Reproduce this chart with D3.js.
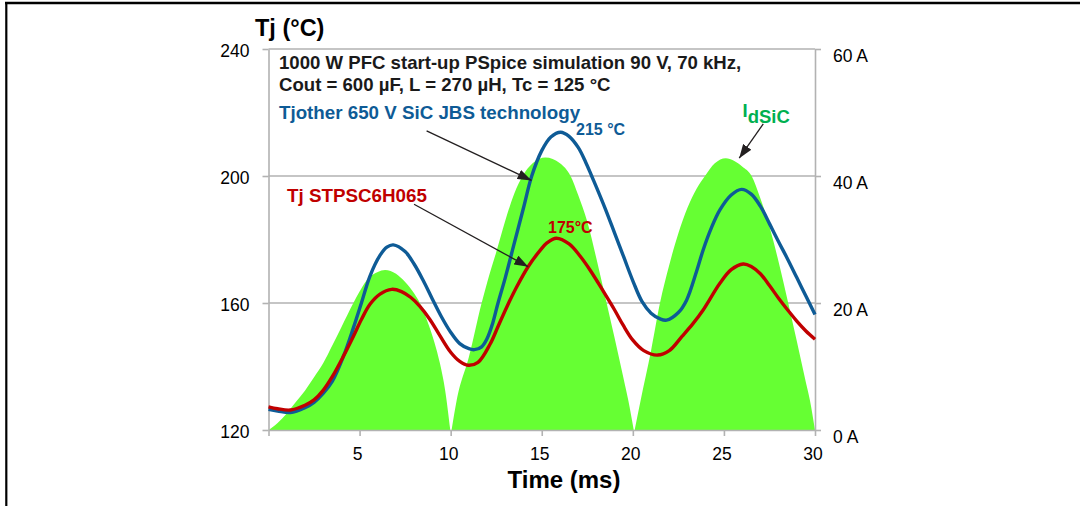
<!DOCTYPE html>
<html><head><meta charset="utf-8">
<script src="https://cdn.jsdelivr.net/npm/d3@7/dist/d3.min.js"></script>
<style>
html,body{margin:0;padding:0;background:#fff;}
svg{display:block;font-family:"Liberation Sans",Arial,sans-serif;}
</style></head>
<body>
<svg id="c" width="1080" height="506"></svg>
<script>
// ---- data (time in ms) ----
const xTicks = [5, 10, 15, 20, 25, 30];
const tempTicks = [120, 160, 200, 240];
const currentTicks = [0, 20, 40, 60];

// Tj of other 650 V SiC JBS technology (°C)
const tjOther = [[0,126.5],[0.5,126],[1.2,125.5],[2,127],[2.5,128.7],[3,131.5],[3.5,135.3],[4.1,143],[4.65,152],[5.1,160],[5.57,168.5],[6.12,175],[6.5,177.6],[6.85,178.3],[7.5,176.2],[8,172.2],[8.5,167],[9,161.2],[9.5,155.6],[10,150.8],[10.5,147.2],[11,145.6],[11.3,145.3],[11.7,146.2],[12,148.8],[12.3,153.5],[12.6,160],[13,168],[13.5,179],[14,190],[14.45,200],[15,208],[15.5,212.3],[16.04,213.8],[16.5,212.5],[17,209],[17.4,204.5],[17.74,200],[18,196.5],[18.5,189.5],[19,182],[19.5,174.5],[20,167],[20.5,160.5],[21,156.8],[21.5,155],[21.85,154.6],[22.5,157],[22.95,160.9],[23.5,170],[23.86,176.7],[24.3,183.5],[24.78,189.3],[25.4,194],[25.97,195.8],[26.5,194.3],[27,190.5],[27.5,185],[28,179.3],[28.5,173.8],[29,168],[29.5,162.2],[30,156.4]];

// Tj STPSC6H065 (°C)
const tjST = [[0,127.3],[0.5,126.7],[1.2,126.3],[2,127.8],[2.5,129.5],[3,132.5],[3.5,136.8],[4.1,143.1],[4.65,149.4],[5.1,154.8],[5.57,159.6],[6.12,162.8],[6.76,164.3],[7.3,163.6],[7.8,161.8],[8.3,159],[8.86,154.8],[9.4,149.8],[10,144.5],[10.5,141.6],[10.95,140.4],[11.5,141.3],[12.16,147],[12.6,152.6],[13.07,158.6],[13.6,164.8],[14.26,171.5],[14.9,176.5],[15.3,179],[15.8,180.4],[16.5,178.6],[17.1,174.8],[17.65,170.4],[18.4,163.5],[19,157.8],[19.47,153],[20,148.3],[20.6,145],[21.36,143.6],[22,145],[22.7,149.5],[23.3,153.5],[23.86,157.8],[24.78,166.2],[25.4,170.5],[26.06,172.3],[26.5,171.5],[27,169.2],[27.5,165.5],[28,161.5],[28.5,157.8],[29,154.3],[29.5,151.2],[30,148.6]];

// IdSiC current (A), three half-wave humps
const idHump1 = [[0,0],[0.5,1.1],[1,2.6],[1.5,4.4],[2,6.2],[2.5,8.3],[3,10.5],[3.5,13.3],[4,16.2],[4.66,20],[5,21.8],[5.39,23.6],[6,24.9],[6.4,25.2],[7,24.6],[7.5,23.3],[8,21.5],[8.31,20],[8.7,17.3],[9,14.8],[9.41,10.5],[9.7,6.2],[9.98,0]];
const idHump2 = [[10.05,0],[10.33,4.7],[11,11.5],[11.7,20],[12,23.2],[12.5,28],[13,33],[13.5,37.3],[13.95,40],[14.5,42],[15.2,42.9],[16,42],[16.58,40],[17,37],[17.5,32.8],[18,27],[18.56,20],[19,14.5],[19.5,8],[19.75,4.7],[20.05,0]];
const idHump3 = [[20.1,0],[20.43,4.7],[21,12.5],[21.49,20],[22,26],[22.5,31],[23,35],[23.5,38],[23.96,40],[24.5,42],[25.1,42.8],[26,41.5],[26.52,40],[27,36.5],[27.5,32],[28,26.5],[28.53,20],[29,14],[29.5,7.5],[29.72,4.7],[30,0]];

// ---- layout ----
const svg = d3.select("#c");
const L = 268.5, R = 815, T = 49, B = 430;
const x = d3.scaleLinear().domain([0, 30]).range([L, R]);
const yT = d3.scaleLinear().domain([120, 240]).range([B, T]);
const yI = d3.scaleLinear().domain([0, 60]).range([B, T]);

const gray = "#b2b2b2";
const blue = "#0e5b96";
const red = "#c00000";
const greenFill = "#66ff33";
const greenText = "#00b050";

// frame
svg.append("line").attr("x1", 5).attr("x2", 1080).attr("y1", 3).attr("y2", 3).attr("stroke", "#000").attr("stroke-width", 2.6);
svg.append("line").attr("x1", 6.3).attr("x2", 6.3).attr("y1", 2).attr("y2", 506).attr("stroke", "#000").attr("stroke-width", 2.2);

// gridlines
svg.append("g").selectAll("line").data(tempTicks.filter(d => d > 120)).join("line")
  .attr("x1", L).attr("x2", R).attr("y1", d => yT(d)).attr("y2", d => yT(d))
  .attr("stroke", gray).attr("stroke-width", 1.6);

// current area
const area = d3.area().x(d => x(d[0])).y0(yI(0)).y1(d => yI(d[1])).curve(d3.curveMonotoneX);
svg.append("g").selectAll("path").data([idHump1, idHump2, idHump3]).join("path")
  .attr("d", area).attr("fill", greenFill);

// axes
function styleAxis(g) {
  g.selectAll(".domain").attr("stroke", gray).attr("stroke-width", 1.6);
  g.selectAll(".tick line").attr("stroke", gray).attr("stroke-width", 1.6);
  g.selectAll("text").attr("fill", "#000").style("font-family", '"Liberation Sans",Arial,sans-serif').style("font-size", "17.5px");
}
const gx = svg.append("g").attr("transform", `translate(0,${B})`)
  .call(d3.axisBottom(x).tickValues([0].concat(xTicks)).tickFormat(d => d === 0 ? "" : d).tickSize(6).tickSizeOuter(0).tickPadding(12));
styleAxis(gx);
gx.selectAll("text").attr("dx", -2.5);

const gl = svg.append("g").attr("transform", `translate(${L},0)`)
  .call(d3.axisLeft(yT).tickValues(tempTicks).tickSize(6).tickSizeOuter(0).tickPadding(13));
styleAxis(gl);
gl.selectAll("text").attr("y", 2);

const gr = svg.append("g").attr("transform", `translate(${R},0)`)
  .call(d3.axisRight(yI).tickValues(currentTicks).tickFormat(d => d + " A").tickSize(6).tickSizeOuter(0).tickPadding(12));
styleAxis(gr);
gr.selectAll("text").attr("y", 7);

// temperature lines
const line = d3.line().x(d => x(d[0])).y(d => yT(d[1])).curve(d3.curveCatmullRom.alpha(0.5));
svg.append("path").datum(tjOther).attr("d", line).attr("fill", "none").attr("stroke", blue).attr("stroke-width", 3.4).attr("stroke-linejoin", "round");
svg.append("path").datum(tjST).attr("d", line).attr("fill", "none").attr("stroke", red).attr("stroke-width", 3.4).attr("stroke-linejoin", "round");

// arrows
const defs = svg.append("defs");
defs.append("marker").attr("id", "ah").attr("viewBox", "0 0 14 10").attr("refX", 14).attr("refY", 5)
  .attr("markerWidth", 14).attr("markerHeight", 10).attr("markerUnits", "userSpaceOnUse").attr("orient", "auto")
  .append("path").attr("d", "M0,0 L14,5 L0,10 Z").attr("fill", "#231f20");
const arrowsT = [
  {from: [8.68, 214.2], to: [14.44, 198.6]},
  {from: [7.99, 191.1], to: [14.26, 171.4]}
];
svg.append("g").selectAll("line").data(arrowsT).join("line")
  .attr("x1", d => x(d.from[0])).attr("y1", d => yT(d.from[1]))
  .attr("x2", d => x(d.to[0])).attr("y2", d => yT(d.to[1]))
  .attr("stroke", "#231f20").attr("stroke-width", 1.3).attr("marker-end", "url(#ah)");
const arrowI = {from: [27.16, 48.2], to: [25.84, 42.8]};
svg.append("line").attr("x1", x(arrowI.from[0])).attr("y1", yI(arrowI.from[1]))
  .attr("x2", x(arrowI.to[0])).attr("y2", yI(arrowI.to[1]))
  .attr("stroke", "#231f20").attr("stroke-width", 1.3).attr("marker-end", "url(#ah)");

// texts
function txt(s, px, py, size, color, weight, anchor) {
  return svg.append("text").attr("x", px).attr("y", py).attr("fill", color)
    .attr("font-size", size).attr("font-weight", weight || "bold").attr("text-anchor", anchor || "start").text(s);
}
txt("Tj (°C)", 255, 36, 23.5, "#000");
txt("Time (ms)", 564, 488, 24, "#000", "bold", "middle");
txt("1000 W PFC start-up PSpice simulation 90 V, 70 kHz,", 279, 68.5, 18.6, "#1a1a1a");
txt("Cout = 600 µF, L = 270 µH, Tc = 125 °C", 279, 90.5, 18.6, "#1a1a1a");
txt("Tjother 650 V SiC JBS technology", 279, 119, 18.75, blue);
txt("215 °C", 576, 135, 16, blue);
txt("Tj STPSC6H065", 287, 201.5, 18.8, red);
txt("175°C", 548, 232.5, 16, red);
const idl = txt("I", 742.5, 117.3, 18.5, greenText);
idl.append("tspan").attr("dy", 5.4).text("dSiC");
</script>
</body></html>
